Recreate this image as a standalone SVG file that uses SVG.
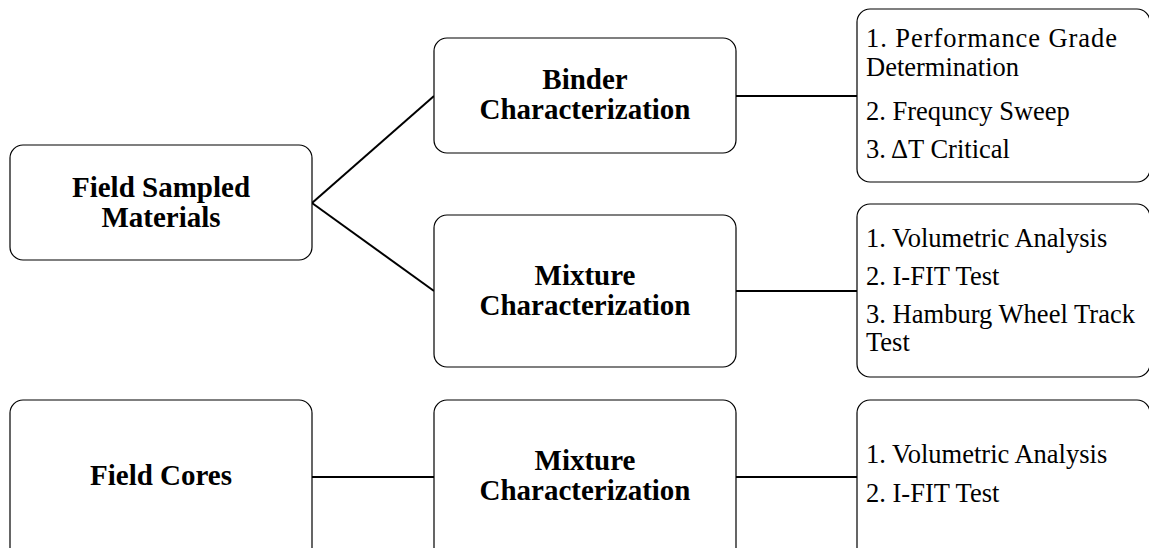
<svg xmlns="http://www.w3.org/2000/svg" width="1149" height="548" viewBox="0 0 1149 548">
<style>
.box{fill:#fff;stroke:#000;stroke-width:1.2}
.b{font-family:"Liberation Serif","Times New Roman",serif;font-weight:bold;font-size:29px;text-anchor:middle;fill:#000}
.r{font-family:"Liberation Serif","Times New Roman",serif;font-size:26.5px;fill:#000}
.c{stroke:#000;stroke-width:2;fill:none}
</style>
<rect width="1149" height="548" fill="#fff"/>
<g id="connectors">
<line class="c" x1="312" y1="203" x2="434" y2="96"/>
<line class="c" x1="312" y1="203" x2="434" y2="291"/>
<line class="c" x1="736" y1="96" x2="857" y2="96"/>
<line class="c" x1="736" y1="291" x2="857" y2="291"/>
<line class="c" x1="312" y1="477" x2="434" y2="477"/>
<line class="c" x1="736" y1="477" x2="857" y2="477"/>
</g>
<g id="field-sampled">
<rect class="box" x="10" y="145" width="302" height="115" rx="13"/>
<text class="b" x="161" y="197">Field Sampled</text>
<text class="b" x="161" y="227">Materials</text>
</g>
<g id="field-cores">
<rect class="box" x="10" y="400" width="302" height="170" rx="13"/>
<text class="b" x="161" y="485">Field Cores</text>
</g>
<g id="binder">
<rect class="box" x="434" y="38" width="302" height="115" rx="13"/>
<text class="b" x="585" y="89">Binder</text>
<text class="b" x="585" y="119">Characterization</text>
</g>
<g id="mixture1">
<rect class="box" x="434" y="215" width="302" height="152" rx="13"/>
<text class="b" x="585" y="285">Mixture</text>
<text class="b" x="585" y="315">Characterization</text>
</g>
<g id="mixture2">
<rect class="box" x="434" y="400" width="302" height="170" rx="13"/>
<text class="b" x="585" y="470">Mixture</text>
<text class="b" x="585" y="500">Characterization</text>
</g>
<g id="binder-tests">
<rect class="box" x="857" y="9" width="293" height="173" rx="13"/>
<text class="r" x="866" y="47" textLength="251" lengthAdjust="spacing">1. Performance Grade</text>
<text class="r" x="866" y="76">Determination</text>
<text class="r" x="866" y="120">2. Frequncy Sweep</text>
<text class="r" x="866" y="158">3. ΔT Critical</text>
</g>
<g id="mixture1-tests">
<rect class="box" x="857" y="204" width="293" height="173" rx="13"/>
<text class="r" x="866" y="247">1. Volumetric Analysis</text>
<text class="r" x="866" y="285">2. I-FIT Test</text>
<text class="r" x="866" y="323" textLength="269" lengthAdjust="spacing">3. Hamburg Wheel Track</text>
<text class="r" x="866" y="351">Test</text>
</g>
<g id="mixture2-tests">
<rect class="box" x="857" y="400" width="293" height="170" rx="13"/>
<text class="r" x="866" y="463">1. Volumetric Analysis</text>
<text class="r" x="866" y="502">2. I-FIT Test</text>
</g>
</svg>
